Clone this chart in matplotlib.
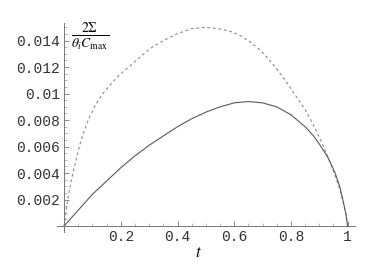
import matplotlib
matplotlib.use("Agg")
import matplotlib.pyplot as plt
from matplotlib.ticker import FuncFormatter, MultipleLocator

# values
t_dash = [0, 0.005, 0.013, 0.027, 0.042, 0.055, 0.068, 0.085, 0.107, 0.133, 0.16, 0.19, 0.227,
          0.265, 0.303, 0.35, 0.397, 0.45, 0.497, 0.545, 0.586, 0.62, 0.656, 0.685,
          0.709, 0.745, 0.78, 0.815, 0.85, 0.88, 0.909, 0.935, 0.956, 0.972, 0.985, 0.994, 1.0]
v_dash = [0, 0.0009, 0.0020, 0.0036, 0.0050, 0.0061, 0.0070, 0.0080, 0.0090, 0.0099, 0.0106, 0.0113, 0.0120,
          0.0127, 0.0134, 0.0140, 0.0145, 0.0149, 0.0150, 0.0149, 0.0147, 0.0144, 0.0139, 0.0134,
          0.0129, 0.0120, 0.0110, 0.0099, 0.0088, 0.0076, 0.0063, 0.0050, 0.0038, 0.0028, 0.0017, 0.0009, 0]

t_solid = [0, 0.05, 0.1, 0.15, 0.2, 0.25, 0.3, 0.35, 0.4, 0.45, 0.5, 0.55, 0.6,
           0.65, 0.7, 0.75, 0.8, 0.85, 0.88, 0.9, 0.93, 0.956, 0.972, 0.985, 0.994, 1.0]
v_solid = [0, 0.0012, 0.0024, 0.0034, 0.0044, 0.0053, 0.0061, 0.0068, 0.0075, 0.0081, 0.0086, 0.0090, 0.0093,
           0.0094, 0.0093, 0.0090, 0.0084, 0.0075, 0.0068, 0.0062, 0.0052, 0.0040, 0.0030, 0.0018, 0.0009, 0]

plt.rcParams['mathtext.fontset'] = 'stix'

fig = plt.figure(figsize=(3.66, 2.70), dpi=100)
ax = fig.add_axes([57 / 366, 38 / 270, 298 / 366, 209 / 270])

ax.plot(t_dash, v_dash, color="#8a8a8a", lw=0.8, dashes=(2.5, 2.5))
ax.plot(t_solid, v_solid, color="#5a5a5a", lw=0.8)

ax.set_xlim(-0.025, 1.026)
ax.set_ylim(-0.00045, 0.01533)

ax.spines['top'].set_visible(False)
ax.spines['right'].set_visible(False)
ax.spines['left'].set_position(('data', 0))
ax.spines['bottom'].set_position(('data', 0))
for s in ['left', 'bottom']:
    ax.spines[s].set_color("#777777")
    ax.spines[s].set_linewidth(0.7)

ax.xaxis.set_major_locator(MultipleLocator(0.2))
ax.xaxis.set_minor_locator(MultipleLocator(0.05))
ax.yaxis.set_major_locator(MultipleLocator(0.002))
ax.yaxis.set_minor_locator(MultipleLocator(0.0005))

fmt = FuncFormatter(lambda v, p: "" if abs(v) < 1e-9 else "%g" % round(v, 6))
ax.xaxis.set_major_formatter(fmt)
ax.yaxis.set_major_formatter(fmt)

ax.tick_params(which='major', direction='in', length=3.5, width=0.6, color="#777777",
               labelsize=10.5, pad=3)
ax.tick_params(which='minor', direction='in', length=2, width=0.5, color="#999999")
for lab in ax.get_xticklabels() + ax.get_yticklabels():
    lab.set_family("Liberation Mono")
    lab.set_color("#333333")

fig.text(198 / 366, 1 - 252 / 270, "$t$", fontsize=12, ha="center", va="center")
fig.text(90 / 366, 1 - 37 / 270, r"$\frac{2\Sigma}{\theta_i C_{\max}}$", fontsize=14,
         ha="center", va="center")

fig.savefig("out.png", dpi=100)
